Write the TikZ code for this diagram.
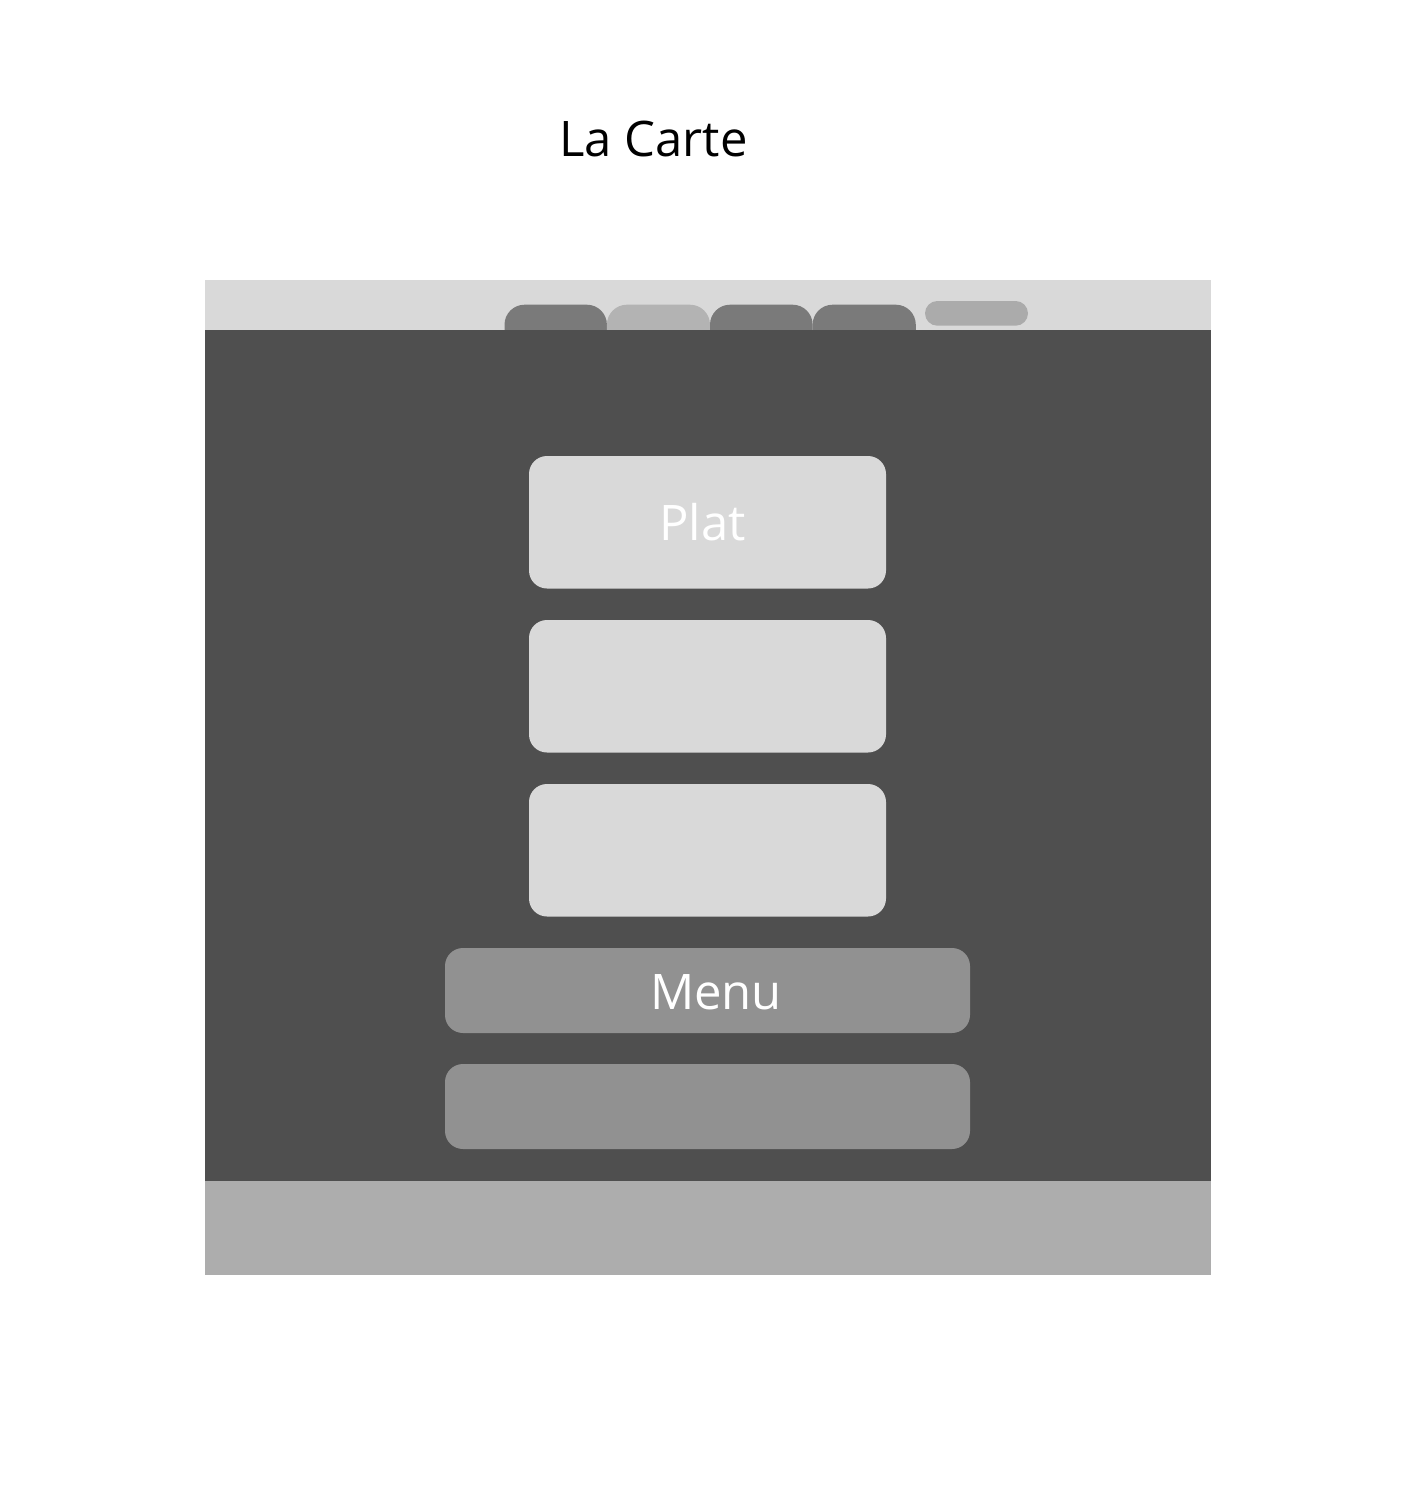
\documentclass[tikz,border=0pt]{standalone}
\usepackage{fontspec}
\setmainfont{Open Sans}
\usepackage{tikz}
\definecolor{headergray}{HTML}{D9D9D9}
\definecolor{tabdark}{HTML}{7A7A7A}
\definecolor{tablight}{HTML}{B3B3B3}
\definecolor{pillgray}{HTML}{ABABAB}
\definecolor{bodydark}{HTML}{4F4F4F}
\definecolor{cardgray}{HTML}{D9D9D9}
\definecolor{buttongray}{HTML}{919191}
\definecolor{footergray}{HTML}{ADADAD}

\begin{document}
\begin{tikzpicture}[x=0.5pt, y=-0.5pt,
    bigtext/.style={font=\fontsize{24.5}{30}\selectfont, inner sep=0pt, anchor=base}]
    \useasboundingbox[fill=white] (0,0) rectangle (1416,1505);

    \node[bigtext] (title) at (653.5,156) {La Carte};

    % header and tabs
    \fill[headergray] (205,280) rectangle (1211,330);
    \fill[tabdark, rounded corners=10pt] (504.5,304.7) rectangle (606.9,360);
    \fill[tablight, rounded corners=10pt] (606.9,304.7) rectangle (710,360);
    \fill[tabdark, rounded corners=10pt] (710,304.7) rectangle (812.6,360);
    \fill[tabdark, rounded corners=10pt] (812.6,304.7) rectangle (915.8,360);
    \fill[pillgray, rounded corners=6.2pt] (925,301) rectangle (1028,325.7);

    % body
    \fill[bodydark] (205,330) rectangle (1211,1181);
    \fill[footergray] (205,1181) rectangle (1211,1275);

    \fill[cardgray, rounded corners=9pt] (529,456) rectangle (886,588.5);
    \fill[cardgray, rounded corners=9pt] (529,620) rectangle (886,752.5);
    \fill[cardgray, rounded corners=9pt] (529,784) rectangle (886,916.5);
    \node[bigtext, text=white] (plat) at (702.5,540) {Plat};

    \fill[buttongray, rounded corners=9pt] (445,948) rectangle (970,1033);
    \fill[buttongray, rounded corners=9pt] (445,1064) rectangle (970,1149);
    \node[bigtext, text=white] (menu) at (716,1009) {Menu};
\end{tikzpicture}
\end{document}
